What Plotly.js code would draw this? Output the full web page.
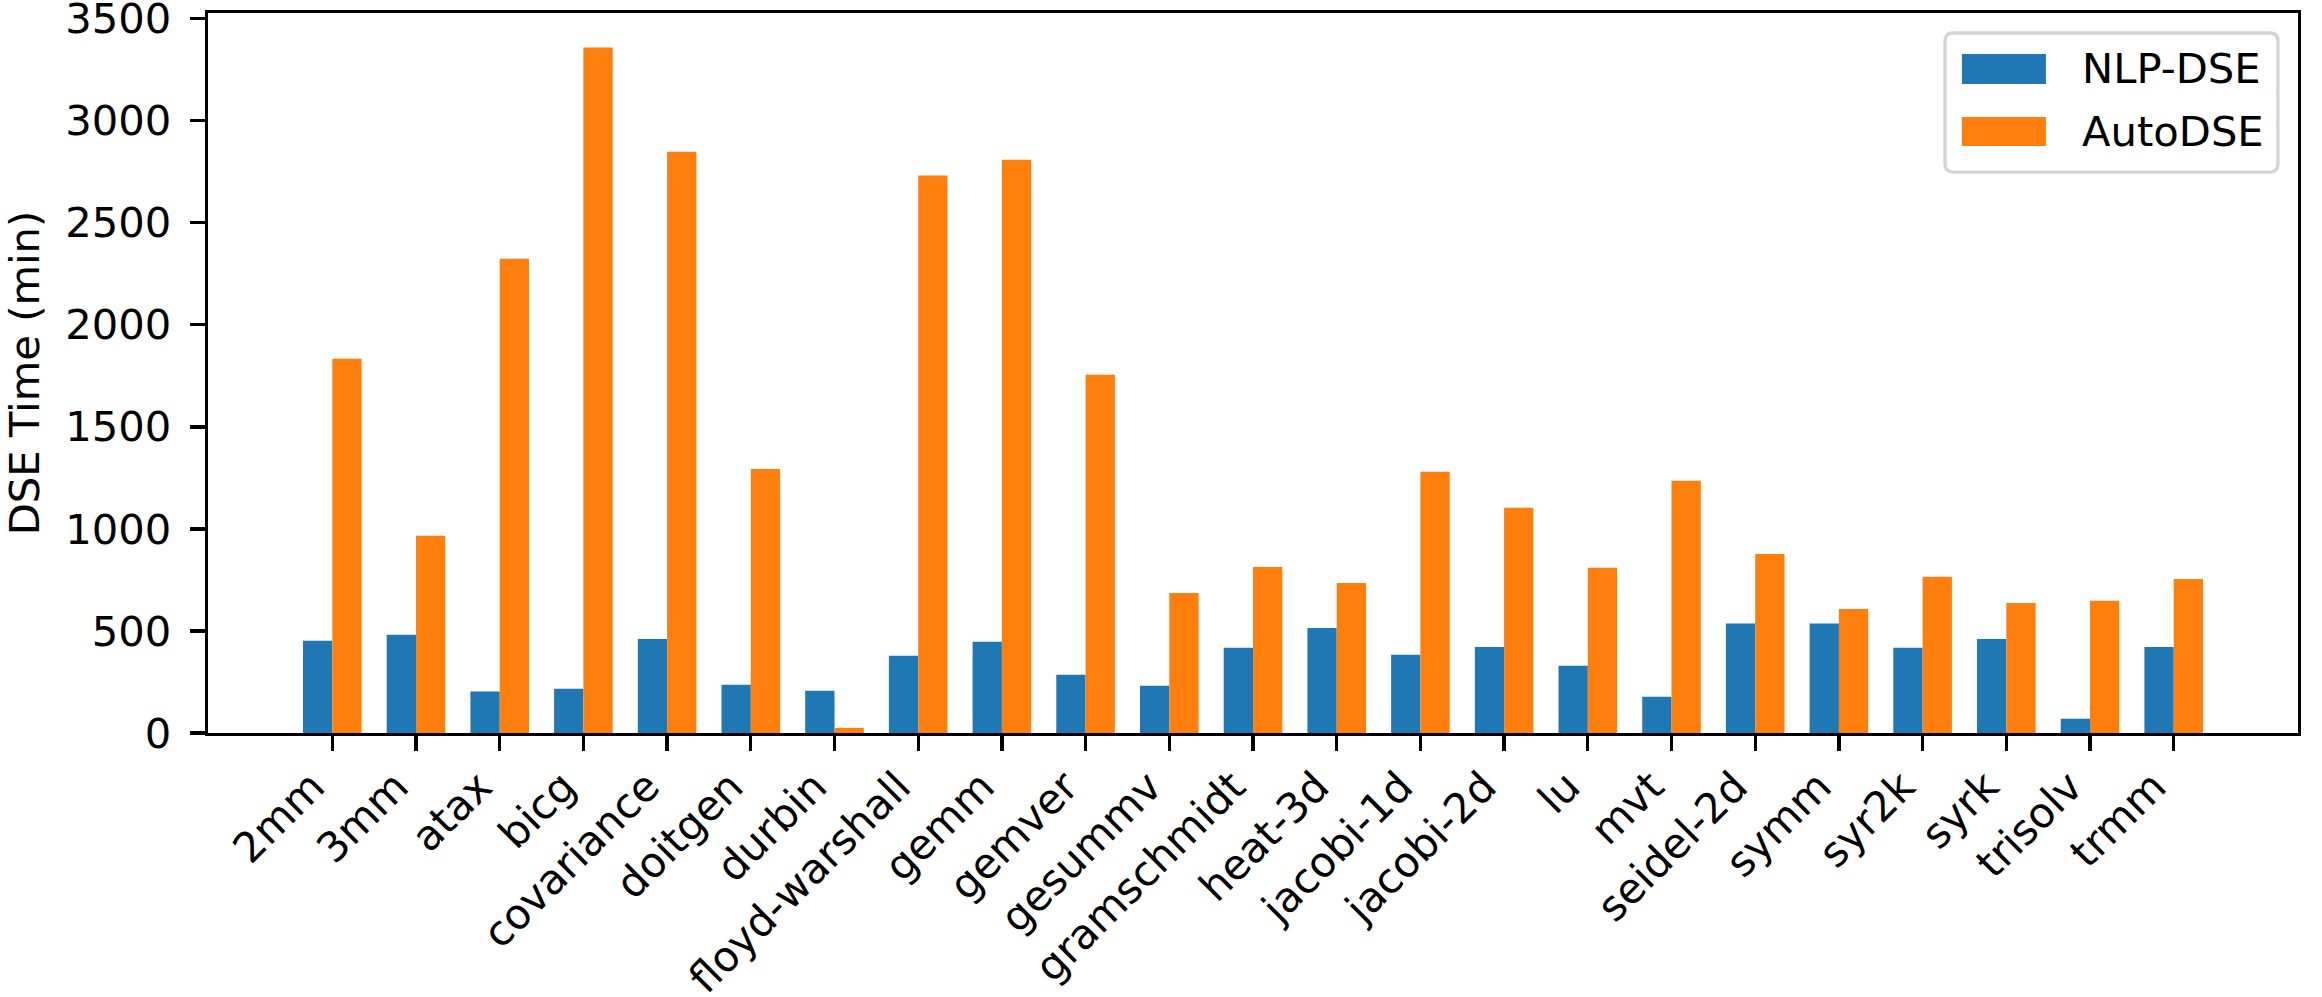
<!DOCTYPE html>
<html>
<head>
<meta charset="utf-8">
<script src="https://cdn.plot.ly/plotly-3.0.1.min.js"></script>
<style>html,body{margin:0;padding:0;background:#fff;}#chart{width:2322px;height:997px;}</style>
</head>
<body>
<div id="chart"></div>
<script>
const categories = ["2mm","3mm","atax","bicg","covariance","doitgen","durbin","floyd-warshall","gemm","gemver","gesummv","gramschmidt","heat-3d","jacobi-1d","jacobi-2d","lu","mvt","seidel-2d","symm","syr2k","syrk","trisolv","trmm"];
const nlpDse = [452,482,203,217,461,236,207,378,447,285,231,418,515,384,422,329,178,536,536,418,461,70,422];
const autoDse = [1834,967,2324,3359,2848,1294,25,2732,2809,1755,686,814,735,1280,1104,810,1236,877,607,766,637,648,755];
const seriesNames = ["NLP-DSE","AutoDSE"];
const seriesColors = ["#1f77b4","#ff7f0e"];
const yTicks = [0,500,1000,1500,2000,2500,3000,3500];

const FONT = "DejaVu Sans, Liberation Sans, sans-serif";
const FS = 41.7;

const traces = [nlpDse, autoDse].map((vals, k) => ({
  type: "bar",
  x: categories,
  y: vals,
  name: seriesNames[k],
  marker: {color: seriesColors[k], line: {width: 0}},
  showlegend: false,
  hoverinfo: "x+y+name"
}));

// legend drawn as shapes/annotations to mimic matplotlib legend
const lg = {x0: 0.8311, x1: 0.9904, y0: 0.779, y1: 0.9722};
const rx = 8/2090, ry = 8/720;
const boxPath = `M ${lg.x0+rx},${lg.y1} L ${lg.x1-rx},${lg.y1} Q ${lg.x1},${lg.y1} ${lg.x1},${lg.y1-ry} L ${lg.x1},${lg.y0+ry} Q ${lg.x1},${lg.y0} ${lg.x1-rx},${lg.y0} L ${lg.x0+rx},${lg.y0} Q ${lg.x0},${lg.y0} ${lg.x0},${lg.y0+ry} L ${lg.x0},${lg.y1-ry} Q ${lg.x0},${lg.y1} ${lg.x0+rx},${lg.y1} Z`;
const patchY = [[0.9014,0.9431],[0.8153,0.8556]];
const textY = [0.9236, 0.836];
const shapes = [{type:"path", xref:"paper", yref:"paper", path: boxPath, fillcolor:"rgba(255,255,255,0.8)", line:{color:"#d4d4d4", width:3.3}, layer:"above"}];
const annotations = [];
seriesNames.forEach((nm, k) => {
  shapes.push({type:"rect", xref:"paper", yref:"paper", x0:0.8392, x1:0.8794, y0:patchY[k][0], y1:patchY[k][1], fillcolor:seriesColors[k], line:{width:0}, layer:"above"});
  annotations.push({xref:"paper", yref:"paper", x:0.8957, y:textY[k], xanchor:"left", yanchor:"middle", text:nm, showarrow:false, font:{family:FONT, size:FS, color:"#000"}});
});

const layout = {
  width: 2322, height: 997,
  margin: {l: 208, r: 24, t: 13, b: 264, pad: 0},
  paper_bgcolor: "#fff", plot_bgcolor: "#fff",
  font: {family: FONT, size: FS, color: "#000"},
  barmode: "group", bargap: 0.3, bargroupgap: 0,
  xaxis: {
    type: "category",
    range: [-1.485, 23.485],
    showgrid: false, zeroline: false,
    showline: true, mirror: true, linecolor: "#000", linewidth: 3.3,
    ticks: "outside", ticklen: 15, tickwidth: 3.3, tickcolor: "#000",
    tickangle: -45,
    ticklabelstandoff: -6,
    ticklabelshift: -20,
    ticklabeloverflow: "allow",
    tickfont: {family: FONT, size: FS, color: "#000"},
    automargin: false
  },
  yaxis: {
    range: [0, 3528],
    tickvals: yTicks,
    ticktext: yTicks.map(String),
    showgrid: false, zeroline: false,
    showline: true, mirror: true, linecolor: "#000", linewidth: 3.3,
    ticks: "outside", ticklen: 15, tickwidth: 3.3, tickcolor: "#000",
    ticklabelstandoff: 10,
    ticklabeloverflow: "allow",
    tickfont: {family: FONT, size: FS, color: "#000"},
    title: {text: "DSE Time (min)", font: {family: FONT, size: FS, color: "#000"}, standoff: 20},
    automargin: false
  },
  shapes: shapes,
  annotations: annotations,
  showlegend: false
};

Plotly.newPlot("chart", traces, layout, {displayModeBar: false, staticPlot: true});
</script>
</body>
</html>
